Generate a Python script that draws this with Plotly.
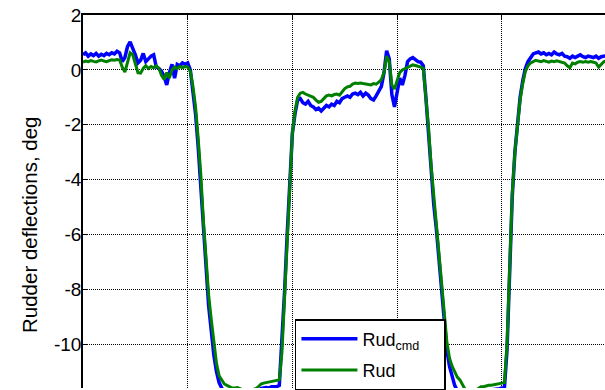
import plotly.graph_objects as go

# time grid (s) and series
time = [round(i * 0.25, 2) for i in range(201)]

rud = [
    0.28, 0.32, 0.30, 0.34, 0.31, 0.29, 0.33, 0.36, 0.32, 0.30,
    0.34, 0.37, 0.35, 0.38, 0.36, 0.10, -0.08, 0.30, 0.62, 0.55,
    0.20, -0.10, -0.12, 0.05, 0.15, 0.05, 0.12, 0.08, 0.15, 0.05,
    -0.20, -0.35, -0.10, -0.30, 0.00, 0.10, 0.05, 0.12, 0.08, 0.12,
    0.10, -0.05, -0.60, -1.35, -2.50, -3.80, -5.50, -7.00, -8.20, -9.10,
    -10.00, -10.70, -11.15, -11.30, -11.45, -11.50, -11.55, -11.60, -11.60, -11.58,
    -11.62, -11.65, -11.70, -11.68, -11.70, -11.65, -11.62, -11.55, -11.45, -11.42,
    -11.40, -11.40, -11.36, -11.35, -11.32, -11.30, -10.30, -8.30, -6.20, -4.50,
    -2.30, -1.50, -1.00, -0.85, -0.82, -0.88, -0.92, -0.95, -1.00, -1.10,
    -1.18, -1.15, -1.05, -0.95, -0.92, -0.95, -0.90, -0.88, -0.92, -0.80,
    -0.68, -0.62, -0.60, -0.52, -0.48, -0.50, -0.48, -0.50, -0.52, -0.55,
    -0.55, -0.50, -0.52, -0.45, -0.35, -0.10, 0.50, 0.30, -0.55, -0.70,
    -0.35, -0.10, 0.00, 0.05, 0.10, 0.15, 0.18, 0.16, 0.14, 0.10,
    0.05, -0.90, -2.10, -3.50, -4.60, -5.50, -6.60, -7.80, -8.90, -9.90,
    -10.50, -10.80, -11.00, -11.20, -11.30, -11.50, -11.65, -11.70, -11.72, -11.70,
    -11.68, -11.62, -11.55, -11.55, -11.52, -11.50, -11.50, -11.48, -11.45, -11.42,
    -11.40, -11.40, -10.00, -7.20, -4.50, -3.00, -1.90, -1.10, -0.50, -0.05,
    0.15, 0.25, 0.30, 0.35, 0.32, 0.30, 0.34, 0.32, 0.28, 0.32,
    0.30, 0.33, 0.30, 0.28, 0.25, 0.15, 0.08, 0.25, 0.22, 0.28,
    0.30, 0.28, 0.30, 0.28, 0.30, 0.28, 0.25, 0.10, 0.22, 0.30,
    0.32,
]

rud_cmd = [
    0.55, 0.62, 0.50, 0.58, 0.52, 0.60, 0.50, 0.57, 0.52, 0.60,
    0.55, 0.62, 0.58, 0.68, 0.62, 0.30, 0.45, 0.85, 1.02, 0.80,
    0.55, 0.25, 0.35, 0.60, 0.30, 0.40, 0.50, 0.55, 0.10, 0.05,
    -0.05, -0.25, -0.55, -0.10, 0.20, -0.30, 0.20, 0.15, 0.25, 0.20,
    0.25, 0.00, -0.75, -1.60, -2.80, -4.20, -5.90, -7.40, -8.60, -9.50,
    -10.40, -11.00, -11.40, -11.60, -11.70, -11.75, -11.78, -11.80, -11.80, -11.78,
    -11.80, -11.80, -11.82, -11.80, -11.80, -11.78, -11.80, -11.75, -11.62, -11.60,
    -11.58, -11.60, -11.55, -11.55, -11.55, -11.50, -10.00, -8.10, -6.00, -4.30,
    -2.30, -1.60, -1.10, -1.05, -1.20, -1.25, -1.15, -1.30, -1.35, -1.45,
    -1.40, -1.50, -1.38, -1.30, -1.35, -1.25, -1.30, -1.15, -1.20, -1.05,
    -1.00, -0.95, -1.00, -0.88, -0.85, -0.90, -0.82, -0.95, -0.85, -0.92,
    -1.05, -1.10, -0.95, -0.80, -0.60, -0.10, 0.70, 0.40, -0.90, -1.35,
    -0.80, -0.30, -0.55, -0.20, 0.30, 0.40, 0.45, 0.38, 0.30, 0.28,
    0.15, -1.00, -2.30, -3.80, -4.90, -5.80, -6.90, -8.10, -9.20, -10.20,
    -10.80, -11.20, -11.50, -11.70, -11.80, -11.85, -11.85, -11.85, -11.85, -11.85,
    -11.82, -11.80, -11.75, -11.72, -11.70, -11.70, -11.68, -11.65, -11.65, -11.62,
    -11.60, -11.60, -10.20, -7.40, -4.60, -3.00, -1.90, -1.00, -0.40, 0.05,
    0.30, 0.45, 0.58, 0.62, 0.65, 0.58, 0.62, 0.55, 0.60, 0.55,
    0.65, 0.58, 0.55, 0.60, 0.50, 0.48, 0.42, 0.50, 0.45, 0.50,
    0.55, 0.48, 0.45, 0.50, 0.48, 0.45, 0.50, 0.42, 0.48, 0.50,
    0.52,
]

ytick_vals = [2, 0, -2, -4, -6, -8, -10]
ytick_text = ["2", "0", "-2", "-4", "-6", "-8", "-10"]

FONT = "Liberation Sans, Arial, sans-serif"

fig = go.Figure()
fig.add_trace(go.Scatter(x=time, y=rud_cmd, mode="lines",
                         name="Rud<sub>cmd</sub>\u00a0\u00a0\u00a0\u00a0",
                         legendgroup="a",
                         line=dict(color="#0000ff", width=3.5)))
fig.add_trace(go.Scatter(x=time, y=rud, mode="lines", name="Rud",
                         legendgroup="b",
                         line=dict(color="#008000", width=3)))

fig.update_layout(
    width=605, height=390,
    margin=dict(l=83, r=0, t=15, b=0),
    paper_bgcolor="white", plot_bgcolor="white",
    font=dict(family=FONT, size=18, color="black"),
    showlegend=True,
    legend=dict(x=0.406, y=0.184, xanchor="left", yanchor="top",
                bgcolor="white", bordercolor="black", borderwidth=1.5,
                font=dict(family=FONT, size=18, color="black"),
                itemwidth=56, tracegroupgap=5),
    annotations=[dict(text="Rudder deflections, deg", textangle=-90,
                      xref="paper", yref="paper", x=-0.1015, y=0.437,
                      xanchor="center", yanchor="middle", showarrow=False,
                      font=dict(family=FONT, size=20.5, color="black"))],
)
fig.update_xaxes(range=[0, 49.857], dtick=10, tick0=0, side="top",
                 showticklabels=False, showline=True, linecolor="black", linewidth=1.5,
                 ticks="inside", ticklen=5, tickcolor="black",
                 showgrid=True, gridcolor="black", gridwidth=1, griddash="1px,1px",
                 zeroline=False, mirror=False)
fig.update_yaxes(range=[-11.597, 2], tickvals=ytick_vals, ticktext=ytick_text,
                 showline=True, linecolor="black", linewidth=1.5,
                 ticks="inside", ticklen=5, tickcolor="black", ticklabelstandoff=-4,
                 showgrid=True, gridcolor="black", gridwidth=1, griddash="1px,1px",
                 zeroline=False, mirror=False,
                 tickfont=dict(family=FONT, size=19, color="black"))

fig.write_html("out.html")
